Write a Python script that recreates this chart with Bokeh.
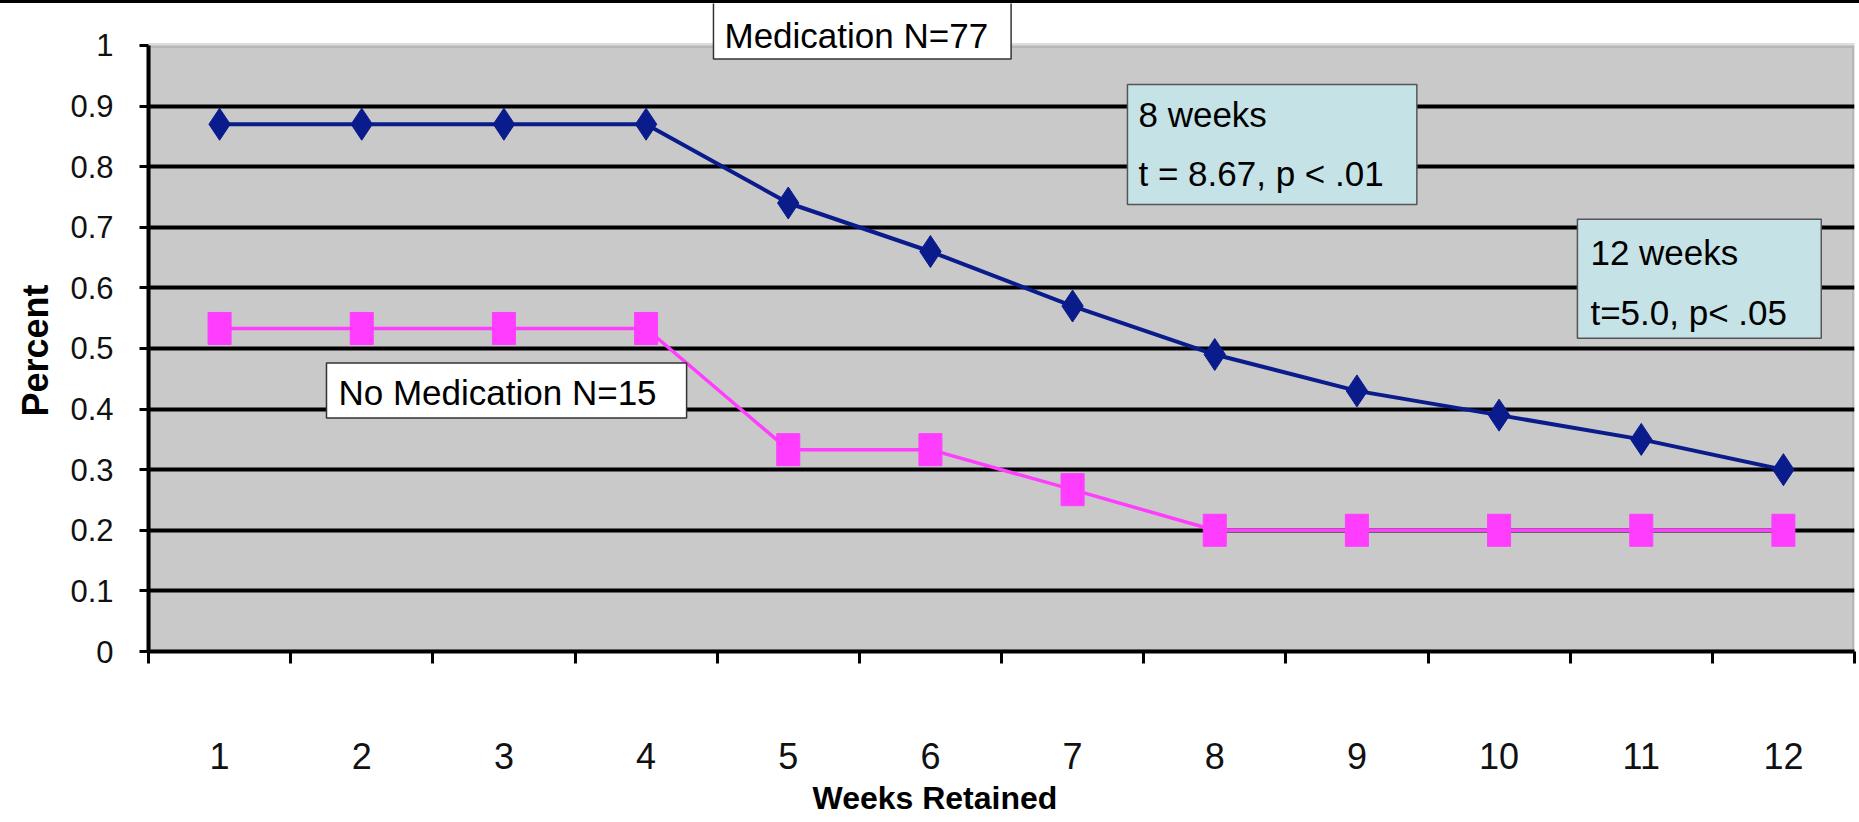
from bokeh.plotting import figure
from bokeh.models import FixedTicker, Label, Title, BoxAnnotation
from bokeh.embed import file_html
from bokeh.resources import INLINE

# ---- data ----
weeks = [1, 2, 3, 4, 5, 6, 7, 8, 9, 10, 11, 12]
week_boundaries = [0.5, 1.5, 2.5, 3.5, 4.5, 5.5, 6.5, 7.5, 8.5, 9.5, 10.5, 11.5, 12.5]
medication = [0.87, 0.87, 0.87, 0.87, 0.74, 0.66, 0.57, 0.49, 0.43, 0.39, 0.35, 0.30]
no_medication = [0.533, 0.533, 0.533, 0.533, 0.333, 0.333, 0.267, 0.2, 0.2, 0.2, 0.2, 0.2]
y_ticks = [0, 0.1, 0.2, 0.3, 0.4, 0.5, 0.6, 0.7, 0.8, 0.9, 1]
y_tick_labels = ["0", "0.1", "0.2", "0.3", "0.4", "0.5", "0.6", "0.7", "0.8", "0.9", "1"]
grid_levels = [0.1, 0.2, 0.3, 0.4, 0.5, 0.6, 0.7, 0.8, 0.9]
x_title = "Weeks Retained"
y_title = "Percent"

# view ranges (the plotting area spans 0..1; a strip above it holds the title box)
X_RANGE = (0.5, 12.5)
Y_TOP = 1.0692
Y_RANGE = (0, Y_TOP)

# annotation boxes: (x, y, text) in data coordinates of their top-left corners
med_box = (4.474, 1.08, "Medication N=77")
nomed_box = (1.752, 0.4761, "No Medication N=15")
box8_lines = ("8 weeks", "t = 8.67, p < .01")
box8_pos = (7.386, 0.9357, 0.8201)
box12_lines = ("12 weeks", "t=5.0, p< .05")
box12_pos = (10.551, 0.7133, 0.5922)

BLUE = "#0a1c8c"
PINK = "#ff3dff"
PLOT_GRAY = "#c9c9c9"
FONT = "Liberation Sans"

p = figure(width=1859, height=819, x_range=X_RANGE, y_range=Y_RANGE,
           output_backend="svg", toolbar_location=None,
           min_border_left=148, min_border_right=5, min_border_top=0, min_border_bottom=170)
p.background_fill_color = "white"
p.border_fill_color = "white"
p.outline_line_color = None
p.styles = {"border-top": "3px solid black"}

# gray plotting area 0..1 with a darker border on top / right
p.add_layout(BoxAnnotation(top=1, fill_color=PLOT_GRAY, fill_alpha=1.0,
                           line_color="#8f8f8f", line_width=5, level="image"))

# grid
p.xgrid.visible = False
p.ygrid.ticker = FixedTicker(ticks=grid_levels)
p.ygrid.grid_line_color = "black"
p.ygrid.grid_line_width = 4

# y axis
ya = p.yaxis[0]
ya.bounds = (0, 1)
ya.ticker = FixedTicker(ticks=y_ticks)
ya.major_label_overrides = dict(zip(y_ticks, y_tick_labels))
ya.axis_line_color = "black"
ya.axis_line_width = 4
ya.major_tick_line_color = "black"
ya.major_tick_line_width = 3
ya.major_tick_out = 9
ya.major_tick_in = 0
ya.minor_tick_line_color = None
ya.major_label_text_font = FONT
ya.major_label_text_font_size = "31px"
ya.major_label_text_color = "#111111"
ya.major_label_standoff = 26

# y axis title (placed beside the axis, centred on the 0..1 area)
p.add_layout(Title(text=y_title, align="left", offset=235, standoff=24,
                   text_font=FONT, text_font_style="bold", text_font_size="36px",
                   text_color="black"), "left")

# x axis
xa = p.xaxis[0]
xa.ticker = FixedTicker(ticks=weeks, minor_ticks=week_boundaries)
xa.major_label_overrides = {w: str(w) for w in weeks}
xa.axis_line_color = "black"
xa.axis_line_width = 4
xa.major_tick_line_color = None
xa.major_tick_out = 0
xa.major_tick_in = 0
xa.minor_tick_line_color = "black"
xa.minor_tick_line_width = 3
xa.minor_tick_out = 12
xa.minor_tick_in = 0
xa.major_label_text_font = FONT
xa.major_label_text_font_size = "36px"
xa.major_label_text_color = "#111111"
xa.major_label_standoff = 79

# x axis title, placed below the axis
p.add_layout(Title(text=x_title, align="left", offset=664, standoff=13,
                   text_font=FONT, text_font_style="bold", text_font_size="32px",
                   text_color="black"), "below")

# series
p.line(weeks, no_medication, line_color=PINK, line_width=3.5)
p.rect(weeks, no_medication, width=23, height=32, width_units="screen", height_units="screen",
       fill_color=PINK, line_color=PINK)
p.line(weeks, medication, line_color=BLUE, line_width=4)
p.scatter(weeks, medication, marker="diamond", size=32, fill_color=BLUE, line_color=BLUE)


def boxed(x, y, text, fill, border, pad):
    return Label(x=x, y=y, text=text, anchor="top_left",
                 text_font=FONT, text_font_size="35px", text_color="black",
                 background_fill_color=fill, border_line_color=border,
                 border_line_width=1.5, padding=pad)


p.add_layout(boxed(med_box[0], med_box[1], med_box[2], "white", "#333333",
                   dict(left=11, right=23, top=19, bottom=4)))
p.add_layout(boxed(nomed_box[0], nomed_box[1], nomed_box[2], "white", "#333333",
                   dict(left=12, right=30, top=10, bottom=6)))

LIGHT = "#c5e2e6"
p.add_layout(boxed(box8_pos[0], box8_pos[1], box8_lines[0], LIGHT, "#555555",
                   dict(left=11, right=150, top=11, bottom=70)))
p.add_layout(Label(x=box8_pos[0], y=box8_pos[2], text=box8_lines[1], anchor="top_left",
                   x_offset=11, text_font=FONT, text_font_size="35px", text_color="black"))
p.add_layout(boxed(box12_pos[0], box12_pos[1], box12_lines[0], LIGHT, "#555555",
                   dict(left=13, right=83, top=14, bottom=66)))
p.add_layout(Label(x=box12_pos[0], y=box12_pos[2], text=box12_lines[1], anchor="top_left",
                   x_offset=13, text_font=FONT, text_font_size="35px", text_color="black"))

open("out.html", "w").write(file_html(p, INLINE))
